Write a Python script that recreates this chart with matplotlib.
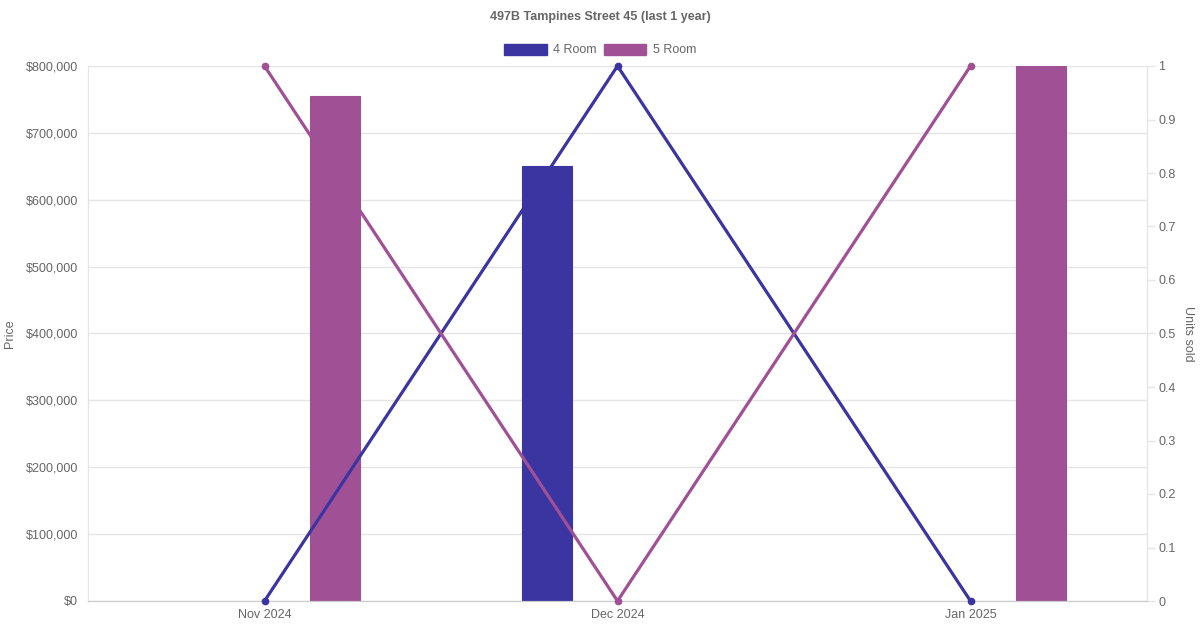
import matplotlib.pyplot as plt
from matplotlib.patches import Patch
from matplotlib.ticker import FuncFormatter, MultipleLocator

# --------------------------------------------------------------------------
# datos
# --------------------------------------------------------------------------
months = ["Nov 2024", "Dec 2024", "Jan 2025"]
series = ["4 Room", "5 Room"]
colors = ["#3A35A0", "#A05195"]

# precio (barras, eje izquierdo); None = sin venta
price_4room = [None, 650000, None]
price_5room = [755000, None, 800000]

# unidades vendidas (lineas, eje derecho)
units_4room = [0, 1, 0]
units_5room = [1, 0, 1]

prices = [price_4room, price_5room]
units = [units_4room, units_5room]

GRID = "#e5e5e5"
TXT = "#666666"

plt.rcParams["font.family"] = ["Liberation Sans", "DejaVu Sans"]

fig = plt.figure(figsize=(12, 6.3), dpi=100)
ax = fig.add_axes([88 / 1200, 29 / 630, (1147 - 88) / 1200, (601 - 66) / 630])
ax2 = ax.twinx()

x = list(range(len(months)))
offsets = [-0.2, 0.2]
bar_w = 0.142

for vals, off, c in zip(prices, offsets, colors):
    for xi, v in zip(x, vals):
        if v is None:
            continue
        ax.bar(xi + off, v, width=bar_w, color=c, edgecolor=c, linewidth=0.8, zorder=2)

for vals, c in zip(units, colors):
    ax2.plot(x, vals, color=c, lw=2.3, marker="o", ms=4.5, zorder=3, clip_on=False)

# eje izquierdo (precio)
ax.set_xlim(-0.5, len(months) - 0.5)
ax.set_ylim(0, 800000)
ax.yaxis.set_major_locator(MultipleLocator(100000))
ax.yaxis.set_major_formatter(FuncFormatter(lambda v, p: f"${v:,.0f}"))
ax.grid(axis="y", color=GRID, lw=1, zorder=0)
ax.set_axisbelow(True)
ax.set_xticks(x)
ax.set_xticklabels(months)
ax.tick_params(axis="x", length=0, pad=6, labelsize=9, colors=TXT)
ax.tick_params(axis="y", length=0, pad=7, labelsize=9, colors=TXT)
ax.set_ylabel("Price", color=TXT, fontsize=9, va="center")
ax.yaxis.set_label_coords((10 - 88) / 1059, 0.5)

# eje derecho (unidades)
ax2.set_ylim(0, 1)
ax2.yaxis.set_major_locator(MultipleLocator(0.1))
ax2.yaxis.set_major_formatter(FuncFormatter(lambda v, p: f"{v:g}"))
ax2.tick_params(axis="y", length=6, width=1, pad=2, labelsize=9, colors=TXT)
ax2.tick_params(axis="y", color=GRID)
ax2.set_ylabel("Units sold", color=TXT, fontsize=9, rotation=270, va="center")
ax2.yaxis.set_label_coords((1188 - 88) / 1059, 0.5)

for a in (ax, ax2):
    a.spines["top"].set_visible(False)
    for s in ("left", "right"):
        a.spines[s].set_color(GRID)
    a.spines["bottom"].set_color("#cccccc")

ax.set_zorder(ax2.get_zorder() - 1)
ax2.patch.set_visible(False)

fig.text(0.5, 1 - 17 / 630, "497B Tampines Street 45 (last 1 year)", ha="center", va="center",
         fontsize=9, fontweight="bold", color=TXT)

handles = [Patch(facecolor=c, edgecolor=c) for c in colors]
fig.legend(handles, series, loc="center", bbox_to_anchor=(0.5, 1 - 50 / 630), ncol=2,
           frameon=False, fontsize=9, handlelength=3.4, handleheight=1.0,
           handletextpad=0.5, columnspacing=0.6, labelcolor=TXT)

fig.savefig("out.png", dpi=100)
